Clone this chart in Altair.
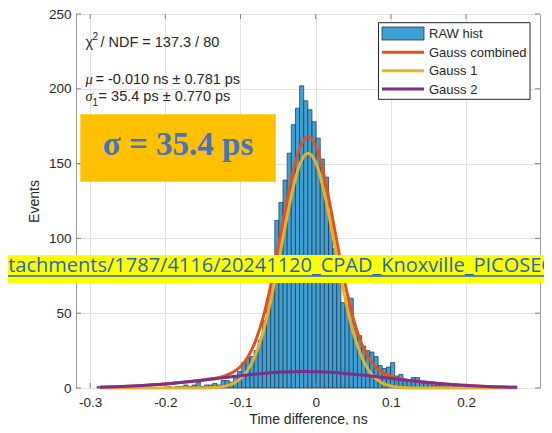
import altair as alt
import pandas as pd

# ---------------- data ----------------
BIN_START = -0.2964
BIN_WIDTH = 0.0055
COUNTS = [
    0, 1, 0, 0, 0, 0, 0, 0, 0, 0,
    0, 0, 0, 0, 0, 0, 0, 0, 1, 0,
    1, 1, 2, 1, 2, 4, 1, 2, 2, 3,
    2, 5, 5, 4, 8, 11, 17, 20, 21, 25,
    32, 45, 60, 86, 112, 124, 139, 157, 176, 187,
    202, 192, 186, 178, 167, 153, 141, 116, 93, 76,
    57, 55, 60, 40, 35, 28, 25, 24, 21, 15,
    13, 14, 17, 8, 9, 5, 5, 7, 7, 4,
    3, 3, 2, 2, 2, 1, 2, 1, 1,
]

CURVE_X = [-0.287, -0.25, -0.22, -0.2, -0.18, -0.16, -0.14, -0.13, -0.12, -0.11,
           -0.10, -0.09, -0.08, -0.07, -0.06, -0.05, -0.04, -0.03, -0.02, -0.01,
           0.0, 0.01, 0.02, 0.03, 0.04, 0.05, 0.06, 0.07, 0.08, 0.09,
           0.10, 0.11, 0.12, 0.13, 0.14, 0.16, 0.18, 0.2, 0.22, 0.25, 0.268]
GAUSS_COMBINED = [0.55, 1.17, 2.0, 2.74, 3.64, 4.71, 6.02, 6.93, 8.29, 10.53,
                  14.4, 20.96, 31.47, 47.03, 68.03, 93.37, 120.32, 144.7, 161.89, 167.99,
                  161.8, 144.52, 120.07, 93.03, 67.63, 46.57, 30.96, 20.4, 13.83, 9.93,
                  7.69, 6.33, 5.44, 4.75, 4.17, 3.17, 2.35, 1.69, 1.17, 0.64, 0.43]
GAUSS_1 = [0, 0, 0, 0, 0, 0.02, 0.19, 0.5, 1.26, 2.9,
           6.2, 12.2, 22.2, 37.3, 57.9, 82.9, 109.6, 133.8, 150.9, 157.0,
           150.9, 133.8, 109.6, 82.9, 57.9, 37.3, 22.2, 12.2, 6.2, 2.9,
           1.26, 0.5, 0.19, 0.06, 0.02, 0, 0, 0, 0, 0, 0]
GAUSS_2 = [0.55, 1.17, 2.0, 2.74, 3.64, 4.69, 5.83, 6.43, 7.03, 7.63,
           8.2, 8.76, 9.27, 9.73, 10.13, 10.47, 10.72, 10.9, 10.99, 10.99,
           10.9, 10.72, 10.47, 10.13, 9.73, 9.27, 8.76, 8.2, 7.63, 7.03,
           6.43, 5.83, 5.25, 4.69, 4.15, 3.17, 2.35, 1.69, 1.17, 0.64, 0.43]

X_TICKS = [-0.3, -0.2, -0.1, 0, 0.1, 0.2]
Y_TICKS = [0, 50, 100, 150, 200, 250]

LEGEND_LABELS = ["RAW hist", "Gauss combined", "Gauss 1", "Gauss 2"]
URL_TEXT = "attachments/1787/4116/20241120_CPAD_Knoxville_PICOSEC"

# ---------------- styles ----------------
BAR_FILL = "#3FA0D4"
BAR_EDGE = "#17354f"
RED = "#E5501E"
YELLOW = "#EDB120"
PURPLE = "#7E2F8E"
TXT = "#262626"
FRAME = "#9a9a9a"
FONT = "Liberation Sans"

W, H = 464, 374
DY = -1  # vertical shift of overlay items relative to the plot top

hist_df = pd.DataFrame({
    "lo": [BIN_START + i * BIN_WIDTH for i in range(len(COUNTS))],
    "hi": [BIN_START + (i + 1) * BIN_WIDTH for i in range(len(COUNTS))],
    "count": COUNTS,
    "base": [0] * len(COUNTS),
})
hist_df = hist_df[hist_df["count"] > 0]

curve_df = pd.DataFrame({"x": CURVE_X, "comb": GAUSS_COMBINED, "g1": GAUSS_1, "g2": GAUSS_2})
xt_df = pd.DataFrame({"t": X_TICKS})
yt_df = pd.DataFrame({"t": Y_TICKS})

xscale = alt.Scale(domain=[-0.3188, 0.2984], nice=False, zero=False)
yscale = alt.Scale(domain=[0, 250], nice=False)

x_axis = alt.Axis(values=X_TICKS, title="Time difference, ns",
                  labelExpr="datum.value == 0 ? '0' : toString(round(datum.value*10)/10)",
                  labelPadding=7, titleX=W / 2, titleY=35, titleBaseline="alphabetic",
                  titleAnchor="middle")
y_axis = alt.Axis(values=Y_TICKS, title="Events", labelPadding=5,
                  titleX=-42, titleY=H / 2, titleAngle=-90, titleBaseline="middle",
                  titleAnchor="middle")

bars = alt.Chart(hist_df).mark_rect(fill=BAR_FILL, stroke=BAR_EDGE, strokeWidth=0.7).encode(
    x=alt.X("lo:Q", scale=xscale, axis=x_axis),
    x2="hi:Q",
    y=alt.Y("count:Q", scale=yscale, axis=y_axis),
    y2="base:Q",
)

# inward tick marks on all four sides (MATLAB box style)
ticks = [
    alt.Chart(xt_df).mark_rule(color="#808080", strokeWidth=1).encode(
        x=alt.X("t:Q", scale=xscale, axis=x_axis), y=alt.value(H), y2=alt.value(H - 5)),
    alt.Chart(xt_df).mark_rule(color="#808080", strokeWidth=1).encode(
        x=alt.X("t:Q", scale=xscale, axis=x_axis), y=alt.value(0), y2=alt.value(5)),
    alt.Chart(yt_df).mark_rule(color="#808080", strokeWidth=1).encode(
        y=alt.Y("t:Q", scale=yscale, axis=y_axis), x=alt.value(0), x2=alt.value(5)),
    alt.Chart(yt_df).mark_rule(color="#808080", strokeWidth=1).encode(
        y=alt.Y("t:Q", scale=yscale, axis=y_axis), x=alt.value(W - 5), x2=alt.value(W)),
]


def curve(col, color):
    return alt.Chart(curve_df).mark_line(color=color, strokeWidth=3, interpolate="monotone").encode(
        x=alt.X("x:Q", scale=xscale, axis=x_axis), y=alt.Y(f"{col}:Q", scale=yscale, axis=y_axis))


one = pd.DataFrame({"a": [0]})


def text(t, x, y, size=14, font=FONT, color=TXT, align="left", **kw):
    return alt.Chart(one).mark_text(text=t, align=align, baseline="alphabetic", fontSize=size,
                                    font=font, color=color, **kw).encode(
        x=alt.value(x), y=alt.value(y + DY))


def box(x1, x2, y1, y2, **kw):
    return alt.Chart(one).mark_rect(**kw).encode(
        x=alt.value(x1), x2=alt.value(x2), y=alt.value(y1 + DY), y2=alt.value(y2 + DY))


def hline(x1, x2, y, color, width):
    return alt.Chart(one).mark_rule(color=color, strokeWidth=width).encode(
        x=alt.value(x1), x2=alt.value(x2), y=alt.value(y + DY))


# fit annotation text
annot = [
    text("χ", 9.6, 33.7, size=14.5),
    text("2", 16.5, 26.5, size=10),
    text("/ NDF = 137.3 / 80", 24.4, 33.7, size=14.5),
    text("μ", 9.6, 70.5, size=14.5, font="Liberation Serif", fontStyle="italic"),
    text("= -0.010 ns ± 0.781 ps", 19.5, 70.5, size=14.5),
    text("σ", 9.6, 88, size=14.5, font="Liberation Serif", fontStyle="italic"),
    text("1", 16.5, 93, size=10),
    text("= 35.4 ps ± 0.770 ps", 22.6, 88, size=14.5),
]

sigma_box = [
    box(4.3, 199.7, 101.3, 168.7, fill="#FFC000"),
    text("σ = 35.4 ps", 102, 142, size=33, font="Liberation Serif", color="#4472C4",
         align="center", fontWeight="bold"),
]

url = [
    box(-80, 480, 242, 270, fill="#FFFF00"),
    text(URL_TEXT, -86, 258.5, size=20, font="Open Sans", color="#1F66C2"),
    hline(-80, 480, 263, "#1F66C2", 1.6),
]

# legend
LX = 302.5
leg = [
    box(LX, 454, 9.7, 86.3, fill="white", stroke="#262626", strokeWidth=1),
    box(306, 348, 14, 27, fill=BAR_FILL, stroke=BAR_EDGE, strokeWidth=0.8),
    hline(306, 348, 39.3, RED, 3),
    hline(306, 348, 57.7, YELLOW, 3),
    hline(306, 348, 76, PURPLE, 3),
]
for lab, yy in zip(LEGEND_LABELS, [25, 43.8, 62.2, 80.5]):
    leg.append(text(lab, 353, yy, size=13))

chart = alt.layer(
    bars,
    *ticks,
    curve("comb", RED),
    curve("g1", YELLOW),
    curve("g2", PURPLE),
    *annot,
    *sigma_box,
    *url,
    *leg,
).properties(
    width=W, height=H,
    padding={"left": 68, "top": 6, "right": 4, "bottom": 37},
    autosize=alt.AutoSizeParams(type="none"),
    background="white",
).configure_view(
    stroke=FRAME, strokeWidth=1
).configure_axis(
    grid=True, gridColor="#e3e3e3", gridWidth=1, domain=False, ticks=False, tickSize=0,
    labelFont=FONT, labelFontSize=13.5, labelColor=TXT,
    titleFont=FONT, titleFontSize=14, titleColor=TXT, titleFontWeight="normal",
)

chart.save("out.html", embed_options={"renderer": "svg", "actions": False})
